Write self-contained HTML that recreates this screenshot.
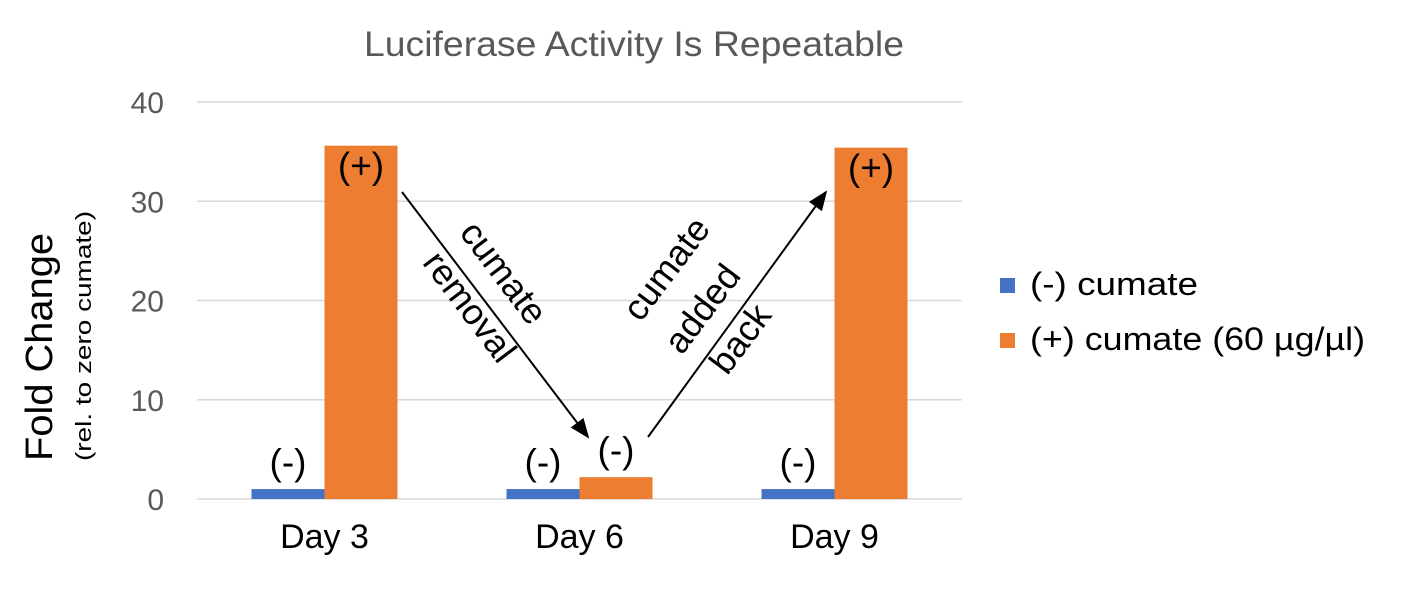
<!DOCTYPE html>
<html><head><meta charset="utf-8"><style>
body{margin:0;background:#fff;}
svg text{font-family:"Liberation Sans",sans-serif;}
</style></head><body>
<svg width="1403" height="585" viewBox="0 0 1403 585" xmlns="http://www.w3.org/2000/svg">
<defs><marker id="ah" markerWidth="10" markerHeight="10" refX="9" refY="5" orient="auto"><path d="M0,1 L10,5 L0,9 z" fill="#000"/></marker></defs>
<text x="634" y="56" font-size="35" fill="#595959" text-anchor="middle" textLength="540" lengthAdjust="spacingAndGlyphs">Luciferase Activity Is Repeatable</text>
<g id="grid"></g><g id="bars"></g><g id="labels"></g>
<g>
<text transform="translate(52,347) rotate(-90)" font-size="38" text-anchor="middle" fill="#000" textLength="228" lengthAdjust="spacingAndGlyphs">Fold Change</text>
<text transform="translate(91,336) rotate(-90)" font-size="22" text-anchor="middle" fill="#000" textLength="250" lengthAdjust="spacingAndGlyphs">(rel. to zero cumate)</text>
</g>
<line x1="402" y1="192" x2="588" y2="437" stroke="#000" stroke-width="2" marker-end="url(#ah)"/>
<line x1="648" y1="437" x2="826" y2="192" stroke="#000" stroke-width="2" marker-end="url(#ah)"/>
<g font-size="36" fill="#000" text-anchor="middle">
<text transform="translate(494,280) rotate(53)">cumate</text>
<text transform="translate(460,314) rotate(53)">removal</text>
</g>
<g font-size="36" fill="#000" text-anchor="middle">
<text transform="translate(676,276) rotate(-53)">cumate</text>
<text transform="translate(712,316) rotate(-53)">added</text>
<text transform="translate(750,346) rotate(-53)">back</text>
</g>
<g>
<rect x="1000" y="278" width="15" height="15" fill="#4472c4"/>
<text x="1030" y="295" font-size="32" fill="#000" textLength="168" lengthAdjust="spacingAndGlyphs">(-) cumate</text>
<rect x="1000" y="333" width="15" height="15" fill="#ed7d31"/>
<text x="1030" y="350" font-size="32" fill="#000" textLength="335" lengthAdjust="spacingAndGlyphs">(+) cumate (60 µg/µl)</text>
</g>
</svg>
<script>
const categories=["Day 3","Day 6","Day 9"];
const minusValues=[1,1,1];
const plusValues=[35.6,2.2,35.4];
const minusLabels=["(-)","(-)","(-)"];
const plusLabels=["(+)","(-)","(+)"];
const ticks=[0,10,20,30,40];
const NS="http://www.w3.org/2000/svg";
const x0=197,x1=962,y0=499,yTop=102,yMax=40;
const y=v=>y0-(v/yMax)*(y0-yTop);
const band=(x1-x0)/categories.length;
const cx=i=>x0+band*(i+0.5);
const bw=73;
function mk(tag,attrs,parent,txt){const e=document.createElementNS(NS,tag);for(const k in attrs)e.setAttribute(k,attrs[k]);if(txt!==undefined)e.textContent=txt;parent.appendChild(e);return e;}
const g=document.getElementById('grid'),b=document.getElementById('bars'),l=document.getElementById('labels');
ticks.forEach(t=>{
 const ln=mk('line',{x1:x0,x2:x1,y1:y(t),y2:y(t),stroke:'#d9d9d9','stroke-width':1.5},g);
 
 
 const tx=mk('text',{x:164,y:y(t)+11,'font-size':30,fill:'#595959','text-anchor':'end'},g,String(t));
 
 
});
categories.forEach((c,i)=>{
 const m=mk('rect',{x:cx(i)-bw,y:y(minusValues[i]),width:bw,height:y0-y(minusValues[i]),fill:'#4472c4'},b);
 
 
 const p=mk('rect',{x:cx(i),y:y(plusValues[i]),width:bw,height:y0-y(plusValues[i]),fill:'#ed7d31'},b);
 
 
 const t1=mk('text',{x:cx(i)-bw/2,y:y(minusValues[i])-14,'font-size':37,'text-anchor':'middle',fill:'#000'},l,minusLabels[i]);
 
 
 const t2=mk('text',{x:cx(i)+bw/2,y:y(plusValues[i])-14,'font-size':37,'text-anchor':'middle',fill:'#000'},l,plusLabels[i]);
 if(plusValues[i]>20)t2.setAttribute('y',y(plusValues[i])+33);
 
 
 const d=mk('text',{x:cx(i),y:548,'font-size':34,'text-anchor':'middle',fill:'#000'},l,c);
 
 
});
</script>
</body></html>
